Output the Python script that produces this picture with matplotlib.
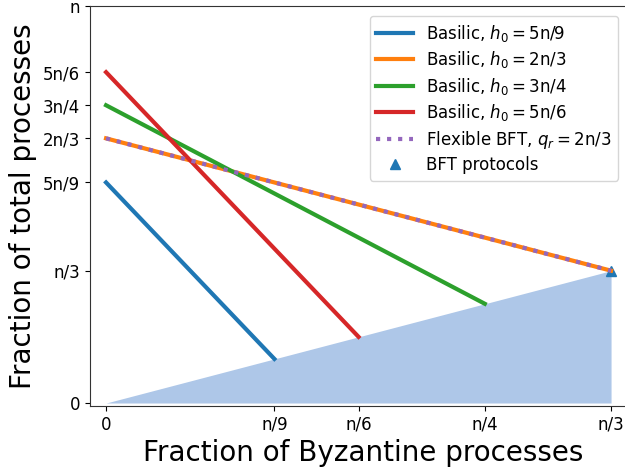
import matplotlib
matplotlib.use("Agg")
import matplotlib.pyplot as plt

h0_labels = ["5n/9", "2n/3", "3n/4", "5n/6"]
h0_values = [5/9, 2/3, 3/4, 5/6]
end_x = [1/9, 1/3, 1/4, 1/6]
end_y = [1/9, 1/3, 1/4, 1/6]
colors = ["tab:blue", "tab:orange", "tab:green", "tab:red"]

flex_x = [0, 1/3]
flex_y = [2/3, 1/3]
bft_x = [1/3]
bft_y = [1/3]
region_x = [0, 1/3]
region_y = [0, 1/3]

xticks = [0, 1/9, 1/6, 1/4, 1/3]
xticklabels = ["0", "n/9", "n/6", "n/4", "n/3"]
yticks = [0, 1/3, 5/9, 2/3, 3/4, 5/6, 1]
yticklabels = ["0", "n/3", "5n/9", "2n/3", "3n/4", "5n/6", "n"]

fig = plt.figure(figsize=(6.25, 4.7), dpi=100)
W, H = 625, 470
left, right, top, bottom = 90, 636, 6, 406
ax = fig.add_axes([left / W, 1 - bottom / H, (right - left) / W, (bottom - top) / H])

ax.fill_between(region_x, region_y, 0, color="#aec7e8", lw=0, zorder=1)
ax.plot(bft_x, bft_y, ls="none", marker="^", ms=6.5, color="tab:blue",
        label="BFT protocols", zorder=2)
for lab, h0, ex, ey, c in zip(h0_labels, h0_values, end_x, end_y, colors):
    ax.plot([0, ex], [h0, ey], color=c, lw=3, label=r"Basilic, $h_0=$" + lab, zorder=3)
ax.plot(flex_x, flex_y, color="tab:purple", lw=3, ls=":",
        label=r"Flexible BFT, $q_r=$2n/3", zorder=4)

ax.set_xlim(-0.0106, 0.3498)
ax.set_ylim(-0.0075, 1.0)
ax.set_xticks(xticks)
ax.set_xticklabels(xticklabels, fontsize=12)
ax.set_xticks([1/3], minor=True)
ax.set_xticklabels(["n/3"], minor=True, fontsize=12)
ax.set_yticks(yticks)
ax.set_yticklabels(yticklabels, fontsize=12)
ax.set_xlabel("Fraction of Byzantine processes", fontsize=20)
ax.set_ylabel("Fraction of total processes", fontsize=20)
for s in ax.spines.values():
    s.set_color("#333333")

handles, labels = ax.get_legend_handles_labels()
order = [1, 2, 3, 4, 5, 0]
ax.legend([handles[i] for i in order], [labels[i] for i in order],
          loc="upper right", fontsize=12, bbox_to_anchor=(0.983, 0.996),
          handlelength=2.2, labelspacing=0.33)

fig.savefig("out.png", dpi=100)
